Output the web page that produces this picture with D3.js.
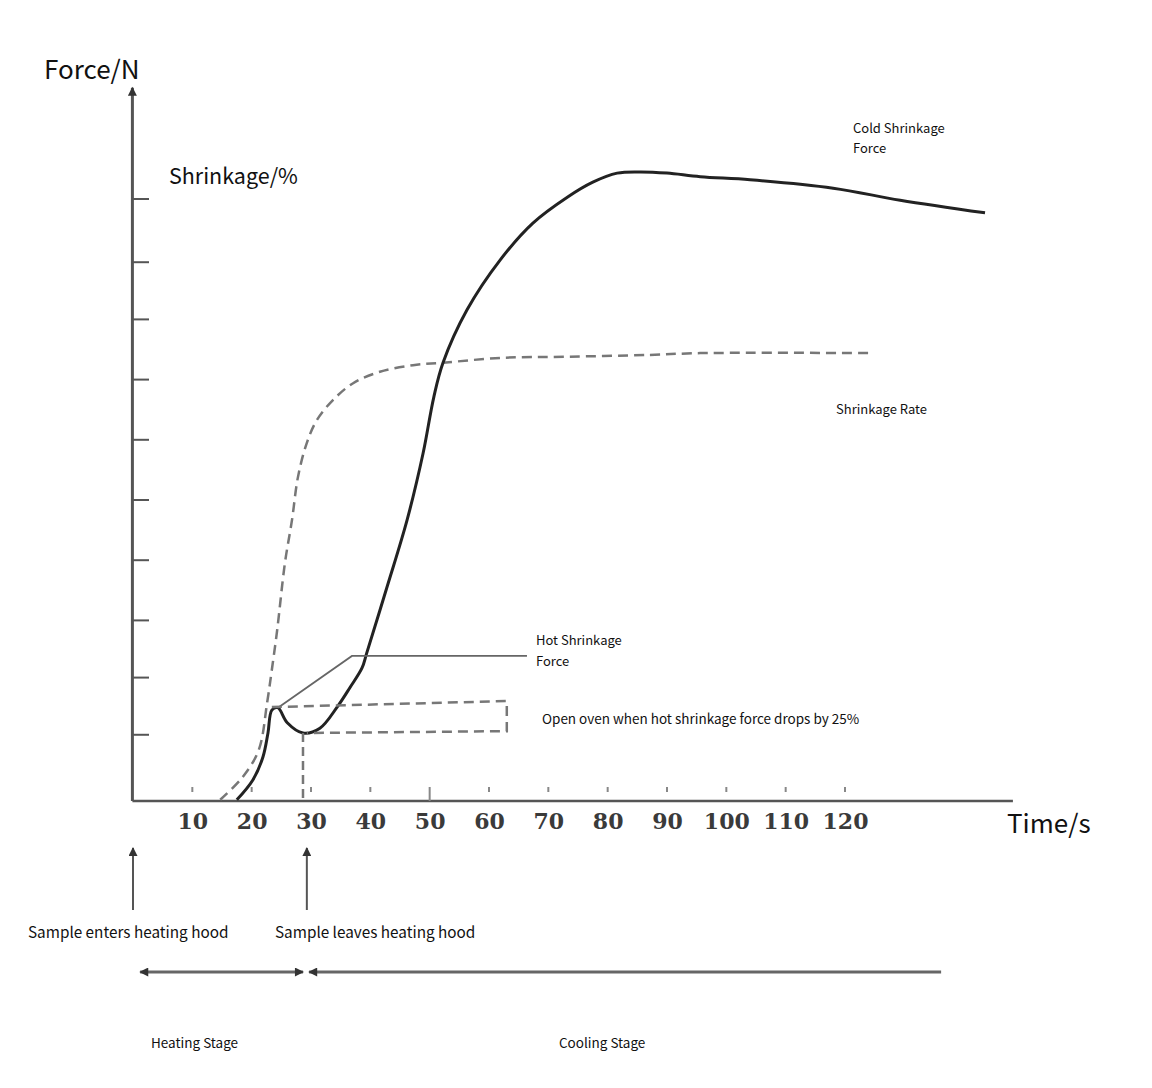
<!DOCTYPE html>
<html lang="en">
<head>
    <meta charset="UTF-8">
    <title>Shrinkage force test</title>
    <script src="https://cdn.jsdelivr.net/npm/d3@7"></script>
    <style>
        body {
            margin: 0;
            background: #fff;
        }
        svg {
            display: block;
        }
        .note {
            font-family: 'Noto Sans CJK SC', 'Noto Sans', sans-serif;
            fill: #111;
        }
        .tick-label {
            font-family: 'DejaVu Serif', 'Liberation Serif', serif;
            font-weight: bold;
            fill: #3a3a3a;
        }
    </style>
</head>
<body>
<div id="chart"></div>
<script>
    // values: time in s, force / shrinkage in tick units
    var xTicks = [10, 20, 30, 40, 50, 60, 70, 80, 90, 100, 110, 120];
    var yTicks = [1.1, 2.05, 3, 4, 5, 6, 7, 8, 8.95, 10];

    var forceTime  = [17.5, 20.2, 21.9, 22.75, 23.4, 24.4, 26.0, 28.65, 31.5, 34.4, 36.6, 38.6, 39.4, 42.8, 46.2, 48.9, 50.7, 52.25, 56.3, 61.9, 67.4, 73.2, 77.5, 81.6, 85.5, 90.0, 95.6, 104.0, 118.0, 129.3, 143.6];
    var forceValue = [0.02, 0.35, 0.73, 1.13, 1.51, 1.55, 1.30, 1.13, 1.21, 1.56, 1.89, 2.21, 2.46, 3.55, 4.67, 5.78, 6.71, 7.28, 8.16, 8.99, 9.60, 10.03, 10.28, 10.43, 10.45, 10.43, 10.37, 10.32, 10.18, 9.98, 9.77];

    var rateTime  = [14.7, 18.5, 21.2, 22.6, 23.4, 24.3, 25.6, 26.8, 27.8, 29.3, 31.0, 33.7, 37.1, 41.6, 47.2, 52.25, 61.9, 73.2, 87.1, 95.6, 124.7];
    var rateValue = [0.02, 0.40, 0.85, 1.63, 2.18, 2.84, 3.95, 4.67, 5.38, 5.95, 6.33, 6.66, 6.94, 7.13, 7.24, 7.28, 7.36, 7.38, 7.41, 7.44, 7.44];

    // annotation guides, in data units
    var hotPointer = [[24.44, 1.55], [36.9, 2.41], [66.4, 2.41]];
    var dropBox    = [[23.4, 1.56], [63.0, 1.66], [63.0, 1.16], [29.3, 1.13]];
    var dropLine   = [[28.65, 1.13], [28.65, 0]];
    var hoodEvents = [0, 29.3];
    var stageStart = 1.2, stageSplit = 29, stageEnd = 136.2;

    var width = 1152, height = 1088;

    var x = d3.scaleLinear().domain([0, 120]).range([133, 845]);
    var y = d3.scaleLinear().domain([0, 10]).range([801, 199]);

    var svg = d3.select('#chart').append('svg')
        .attr('width', width)
        .attr('height', height);

    var defs = svg.append('defs');
    defs.append('marker')
        .attr('id', 'head')
        .attr('viewBox', '0 0 10 10')
        .attr('refX', 9).attr('refY', 5)
        .attr('markerUnits', 'userSpaceOnUse')
        .attr('markerWidth', 12).attr('markerHeight', 9)
        .attr('orient', 'auto-start-reverse')
        .append('path')
        .attr('d', 'M0,0L10,5L0,10Z')
        .attr('fill', '#333');

    var line = d3.line()
        .x(d => x(d[0]))
        .y(d => y(d[1]));

    // ---- axes ----
    var yTop = 11.85, xEnd = 148.3;

    svg.append('line')
        .attr('x1', x(-0.1)).attr('y1', y(0))
        .attr('x2', x(-0.1)).attr('y2', y(yTop))
        .attr('stroke', '#555')
        .attr('stroke-width', 3)
        .attr('marker-end', 'url(#head)');

    svg.append('g').selectAll('line')
        .data(yTicks)
        .enter().append('line')
        .attr('x1', x(-0.1)).attr('x2', x(2.7))
        .attr('y1', d => y(d)).attr('y2', d => y(d))
        .attr('stroke', '#555')
        .attr('stroke-width', 2);

    svg.append('line')
        .attr('x1', x(-0.1)).attr('y1', y(0))
        .attr('x2', x(xEnd)).attr('y2', y(0))
        .attr('stroke', '#555')
        .attr('stroke-width', 2.5);

    var xAxis = d3.axisBottom(x)
        .tickValues(xTicks)
        .tickSize(0)
        .tickPadding(12);

    var gx = svg.append('g')
        .attr('transform', 'translate(0,' + y(0) + ')')
        .call(xAxis);
    gx.select('.domain').remove();
    gx.selectAll('text')
        .attr('class', 'tick-label')
        .attr('font-size', 22)
        .attr('fill', '#3a3a3a');

    // little tick dots above the axis
    svg.append('g').selectAll('line')
        .data(xTicks)
        .enter().append('line')
        .attr('x1', d => x(d)).attr('x2', d => x(d))
        .attr('y1', y(0) - 14).attr('y2', d => d === 50 ? y(0) : y(0) - 9)
        .attr('stroke', '#888')
        .attr('stroke-width', 2);

    // ---- curves ----
    svg.append('path')
        .datum(rateTime.map((t, i) => [t, rateValue[i]]))
        .attr('d', line.curve(d3.curveCatmullRom.alpha(0.5)))
        .attr('fill', 'none')
        .attr('stroke', '#777')
        .attr('stroke-width', 2.5)
        .attr('stroke-dasharray', '10,6');

    svg.append('path')
        .datum(forceTime.map((t, i) => [t, forceValue[i]]))
        .attr('d', line.curve(d3.curveCatmullRom.alpha(0.5)))
        .attr('fill', 'none')
        .attr('stroke', '#222')
        .attr('stroke-width', 3);

    line.curve(d3.curveLinear);

    svg.append('path')
        .datum(hotPointer)
        .attr('d', line)
        .attr('fill', 'none')
        .attr('stroke', '#666')
        .attr('stroke-width', 1.8);

    svg.append('path')
        .datum(dropBox)
        .attr('d', line)
        .attr('fill', 'none')
        .attr('stroke', '#777')
        .attr('stroke-width', 2.5)
        .attr('stroke-dasharray', '10,6');

    svg.append('path')
        .datum(dropLine)
        .attr('d', line)
        .attr('fill', 'none')
        .attr('stroke', '#777')
        .attr('stroke-width', 2.5)
        .attr('stroke-dasharray', '9,5');

    // ---- hood arrows and stages ----
    svg.append('g').selectAll('line')
        .data(hoodEvents)
        .enter().append('line')
        .attr('x1', d => x(d)).attr('x2', d => x(d))
        .attr('y1', 910).attr('y2', 848)
        .attr('stroke', '#555')
        .attr('stroke-width', 2)
        .attr('marker-end', 'url(#head)');

    svg.append('line')
        .attr('x1', x(stageStart)).attr('x2', x(stageSplit) - 2)
        .attr('y1', 972).attr('y2', 972)
        .attr('stroke', '#666')
        .attr('stroke-width', 3)
        .attr('marker-start', 'url(#head)')
        .attr('marker-end', 'url(#head)');

    svg.append('line')
        .attr('x1', x(stageSplit) + 4).attr('x2', x(stageEnd))
        .attr('y1', 972).attr('y2', 972)
        .attr('stroke', '#666')
        .attr('stroke-width', 3)
        .attr('marker-start', 'url(#head)');

    // ---- text ----
    var notes = [
        {t: 'Force/N', x: 44, y: 79, s: 26},
        {t: 'Shrinkage/%', x: 169, y: 184, s: 21.5},
        {t: 'Time/s', x: 1007, y: 833, s: 26},
        {t: 'Cold Shrinkage', x: 853, y: 133, s: 13},
        {t: 'Force', x: 853, y: 153, s: 13},
        {t: 'Shrinkage Rate', x: 836, y: 414, s: 13},
        {t: 'Hot Shrinkage', x: 536, y: 645, s: 13},
        {t: 'Force', x: 536, y: 666, s: 13},
        {t: 'Open oven when hot shrinkage force drops by 25%', x: 542, y: 724, s: 13.5},
        {t: 'Sample enters heating hood', x: 28, y: 938, s: 15.3},
        {t: 'Sample leaves heating hood', x: 275, y: 938, s: 15.3},
        {t: 'Heating Stage', x: 151, y: 1048, s: 13.5},
        {t: 'Cooling Stage', x: 559, y: 1048, s: 13.5}
    ];

    svg.append('g').selectAll('text')
        .data(notes)
        .enter().append('text')
        .attr('class', 'note')
        .attr('x', d => d.x)
        .attr('y', d => d.y)
        .attr('font-size', d => d.s)
        .text(d => d.t);
</script>
</body>
</html>
